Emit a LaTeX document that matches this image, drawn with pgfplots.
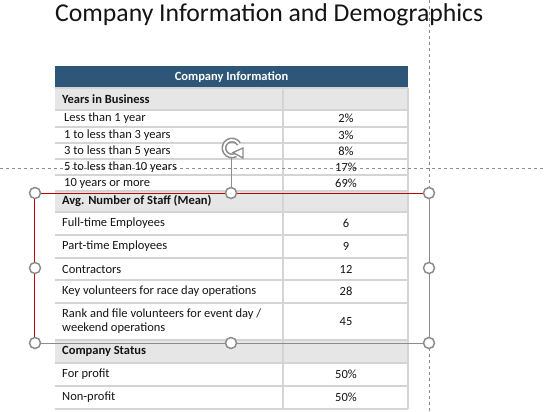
\documentclass[border=0pt]{standalone}
\usepackage{fontspec}
\setmainfont{Carlito}
\usepackage{pgfplots}
\pgfplotsset{compat=1.18}
\usetikzlibrary{arrows.meta}
\definecolor{hdr}{HTML}{2E5679}
\definecolor{sec}{HTML}{E6E6E6}
\definecolor{gridc}{HTML}{D4D4D4}
\definecolor{hnd}{HTML}{8C8C8C}
\definecolor{sel}{HTML}{C00000}
\definecolor{txt}{HTML}{141414}
\begin{document}
\begin{tikzpicture}
\begin{axis}[name=ax, width=546pt, height=412pt, scale only axis,
  xmin=0, xmax=546, ymin=0, ymax=412, y dir=reverse, hide axis, clip=false]
% title
\node[anchor=base west, font=\fontsize{25.7}{30}\selectfont, text=txt, inner sep=0pt] at (axis cs:55,22) {Company Information and Demographics};
% cell fills
\fill[hdr] (axis cs:55,66) rectangle (axis cs:408,88);
\fill[sec] (axis cs:55,88) rectangle (axis cs:408,110);
\fill[sec] (axis cs:55,191) rectangle (axis cs:408,212);
\fill[sec] (axis cs:55,340) rectangle (axis cs:408,363);
% grid lines
\pgfplotsinvokeforeach{88,110,127,143,159,175,191,212,235,258,280,303,340,363,386,409}{
  \draw[gridc, line width=1.3pt] (axis cs:55,#1) -- (axis cs:408,#1);
}
\draw[gridc, line width=1.3pt] (axis cs:283,88) -- (axis cs:283,409);
\draw[gridc, line width=1.3pt] (axis cs:408,88) -- (axis cs:408,409);
% header
\addplot[draw=none, mark=none, nodes near coords, point meta=explicit symbolic,
  nodes near coords style={anchor=center, font=\bfseries\fontsize{12.5}{14}\selectfont, text=white, inner sep=0pt}]
  coordinates {(231.5,77) [{Company Information}]};
% section headers
\addplot[draw=none, mark=none, nodes near coords, point meta=explicit symbolic,
  nodes near coords style={anchor=west, font=\bfseries\fontsize{12.5}{14}\selectfont, text=txt, inner sep=0pt}]
  coordinates {(62,99) [{Years in Business}]
               (62,201) [{Avg. Number of Staff (Mean)}]
               (62,351.5) [{Company Status}]};
% row labels
\addplot[draw=none, mark=none, nodes near coords, point meta=explicit symbolic,
  nodes near coords style={anchor=west, font=\fontsize{12.5}{14}\selectfont, text=txt, inner sep=0pt, align=left}]
  coordinates {(64,118.5) [{Less than 1 year}]
               (64,135) [{1 to less than 3 years}]
               (64,151) [{3 to less than 5 years}]
               (64,167) [{5 to less than 10 years}]
               (64,183) [{10 years or more}]
               (62,223.5) [{Full-time Employees}]
               (62,246.5) [{Part-time Employees}]
               (62,269) [{Contractors}]
               (62,291.5) [{Key volunteers for race day operations}]
               (62,321.5) [{Rank and file volunteers for event day /\\weekend operations}]
               (62,374.5) [{For profit}]
               (62,397.5) [{Non-profit}]};
% values
\addplot[draw=none, mark=none, nodes near coords, point meta=explicit symbolic,
  nodes near coords style={anchor=center, font=\fontsize{12.5}{14}\selectfont, text=txt, inner sep=0pt}]
  coordinates {(346,118.5) [2\%]
               (346,135) [3\%]
               (346,151) [8\%]
               (346,167) [17\%]
               (346,183) [69\%]
               (346,223.5) [6]
               (346,246.5) [9]
               (346,269) [12]
               (346,291.5) [28]
               (346,321.5) [45]
               (346,374.5) [50\%]
               (346,397.5) [50\%]};
% guides
\draw[hnd, line width=0.8pt, dash pattern=on 3pt off 3pt] (axis cs:0,168) -- (axis cs:546,168);
\draw[hnd, line width=0.8pt, dash pattern=on 3pt off 3pt] (axis cs:429,0) -- (axis cs:429,412);
% selection box
\draw[hnd, line width=1pt] (axis cs:35,343) -- (axis cs:429,343) -- (axis cs:429,193);
\draw[sel, line width=1pt] (axis cs:35,343) -- (axis cs:35,193) -- (axis cs:429,193);
\draw[hnd, line width=1pt] (axis cs:231,193) -- (axis cs:231,158);
% rotation handle icon
\draw[hnd, line width=5pt] (axis cs:238.9,144) arc[start angle=30, delta angle=270, radius=8pt];
\draw[white, line width=1.8pt] (axis cs:238.9,144) arc[start angle=30, delta angle=270, radius=8pt];
\fill[white, draw=hnd, line width=1.3pt] (axis cs:233,152.5) -- (axis cs:243,148) -- (axis cs:243,158) -- cycle;
\addplot[only marks, mark=*, mark size=5.5pt, mark options={fill=white, draw=hnd, line width=1.5pt}]
  coordinates {(35,193) (231,193) (429,193) (35,268) (429,268) (35,343) (231,343) (429,343)};
\end{axis}
\pgfresetboundingbox
\path[use as bounding box] (ax.south west) rectangle (ax.north east);
\end{tikzpicture}
\end{document}
